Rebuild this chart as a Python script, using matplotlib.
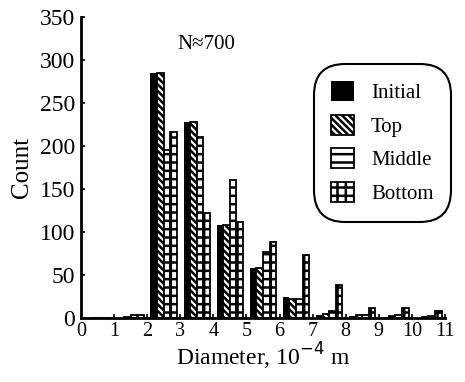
import numpy as np
import matplotlib
matplotlib.use("Agg")
import matplotlib.pyplot as plt

plt.rcParams['font.family'] = ['Liberation Serif', 'DejaVu Serif']
plt.rcParams['hatch.linewidth'] = 1.8

###############################################

bins = np.arange(0, 11)
initial = [0, 0, 285, 228, 108, 58, 25, 3, 2, 1, 0]
top = [0, 1, 285, 228, 108, 58, 22, 5, 3, 2, 1]
middle = [0, 4, 196, 211, 160, 77, 22, 8, 3, 3, 2]
bottom = [0, 4, 217, 122, 112, 88, 73, 38, 12, 12, 8]

series = [("Initial", initial, dict(color='black')),
          ("Top", top, dict(facecolor='white', edgecolor='black', hatch='\\\\\\\\\\')),
          ("Middle", middle, dict(facecolor='white', edgecolor='black', hatch='--')),
          ("Bottom", bottom, dict(facecolor='white', edgecolor='black', hatch='++'))]

###############################################

fig = plt.figure(figsize=(4.65, 3.82), dpi=100)
ax = fig.add_axes([0.174, 0.1675, 0.783, 0.7875])

w = 0.2
for i, (name, vals, style) in enumerate(series):
    ax.bar(bins + 0.1 + w * i, vals, width=w, align='edge', linewidth=1.3,
           label=name, **style)

ax.set_xlim(0, 11)
ax.set_ylim(0, 350)
ax.set_xticks(range(0, 12))
ax.set_yticks(range(0, 351, 50))
ax.spines['top'].set_visible(False)
ax.spines['right'].set_visible(False)
ax.spines['left'].set_linewidth(2)
ax.spines['bottom'].set_linewidth(2)
ax.tick_params(direction='in', length=3, width=1.2)
ax.tick_params(axis='x', labelsize=14.5, pad=3)
ax.tick_params(axis='y', labelsize=17, pad=4)

ax.set_xlabel("Diameter, 10$^{-4}$ m", fontsize=17, labelpad=0)
ax.set_ylabel("Count", fontsize=18, labelpad=5)
ax.text(0.345, 0.91, "N\u2248700", transform=ax.transAxes, ha='center', va='center', fontsize=15)

leg = ax.legend(loc='upper right', bbox_to_anchor=(1.0, 0.825), fontsize=15,
                fancybox=True, framealpha=1, edgecolor='black', handlelength=1.1,
                handleheight=1.1, borderpad=0.55, labelspacing=0.55, handletextpad=0.8,
                borderaxespad=0)
leg.get_frame().set_linewidth(1.5)
leg.get_frame().set_boxstyle('round', pad=0.3, rounding_size=1.5)

fig.savefig("out.png", dpi=100)
